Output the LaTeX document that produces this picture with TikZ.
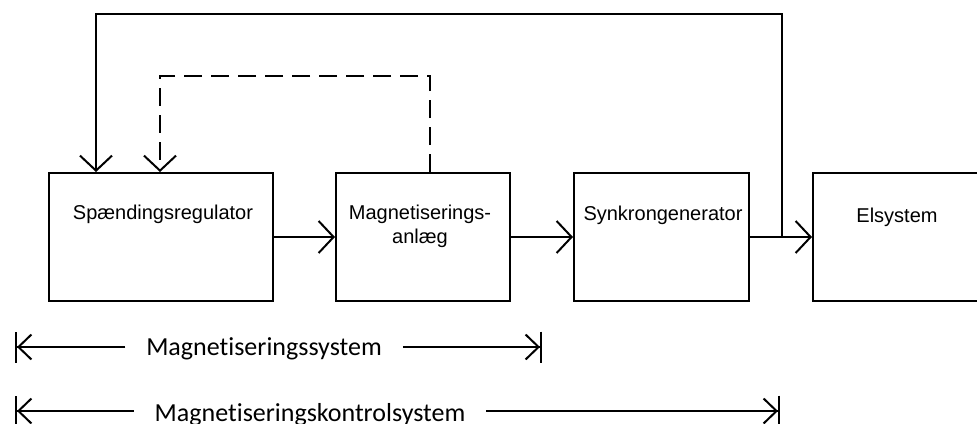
\documentclass[tikz,border=0pt]{standalone}
\usepackage{fontspec}
\usetikzlibrary{arrows.meta}
\newfontfamily\boxfont{Liberation Sans}
\newfontfamily\labfont[Ligatures=NoCommon]{Carlito}

\begin{document}
\begin{tikzpicture}[x=1pt, y=-1pt, line width=2pt,
	block/.style={rectangle, draw, minimum height=128pt, inner sep=0pt},
	blocktext/.style={font=\boxfont\fontsize{20}{24}\selectfont, anchor=base, inner sep=0pt, align=center},
	flow/.style={-{Straight Barb[length=15pt, width=32pt]}},
	feedback/.style={flow, dash pattern=on 18pt off 9pt},
	span/.style={-{Straight Barb[length=13pt, width=25pt] Bar[width=31pt]}},
	spantext/.style={font=\labfont\fontsize{26}{30}\selectfont, anchor=base, inner xsep=20pt, inner ysep=0pt}]
	\useasboundingbox (0,0) rectangle (977,423);

	% blocks
	\node[block, minimum width=224pt] (reg) at (161,237) {};
	\node[block, minimum width=174pt] (mag) at (423,237) {};
	\node[block, minimum width=175pt] (syn) at (661.5,237) {};
	\node[block, minimum width=175pt] (el) at (900.5,237) {};
	\node[blocktext] (reg-t) at (163,219) {Sp\ae ndingsregulator};
	\node[blocktext] (mag-t) at (420,243) {Magnetiserings-\\anl\ae g};
	\node[blocktext] (syn-t) at (663,220) {Synkrongenerator};
	\node[blocktext] (el-t) at (897,222) {Elsystem};

	% forward path
	\draw[flow] (reg.east) -- (mag.west);
	\draw[flow] (mag.east) -- (syn.west);
	\draw[flow] (syn.east) -- (el.west);

	% feedback
	\coordinate (tap) at ([xshift=32pt]syn.east);
	\draw[flow] (tap) -- ++(0,-223) -| ([xshift=-65pt]reg.north);
	\draw[feedback] ([xshift=7pt]mag.north) -- ++(0,-96) -| ([xshift=-1pt]reg.north);

	% system limits
	\coordinate (ms-l) at (15,347);
	\coordinate (ms-r) at (542,347);
	\coordinate (mk-l) at (15,411);
	\coordinate (mk-r) at (780,411);
	\node[spantext] (ms-t) at (264,355) {Magnetiseringssystem};
	\node[spantext] (mk-t) at (310,421) {Magnetiseringskontrolsystem};
	\draw[span] (ms-l -| ms-t.west) -- (ms-l);
	\draw[span] (ms-r -| ms-t.east) -- (ms-r);
	\draw[span] (mk-l -| mk-t.west) -- (mk-l);
	\draw[span] (mk-r -| mk-t.east) -- (mk-r);
\end{tikzpicture}
\end{document}
